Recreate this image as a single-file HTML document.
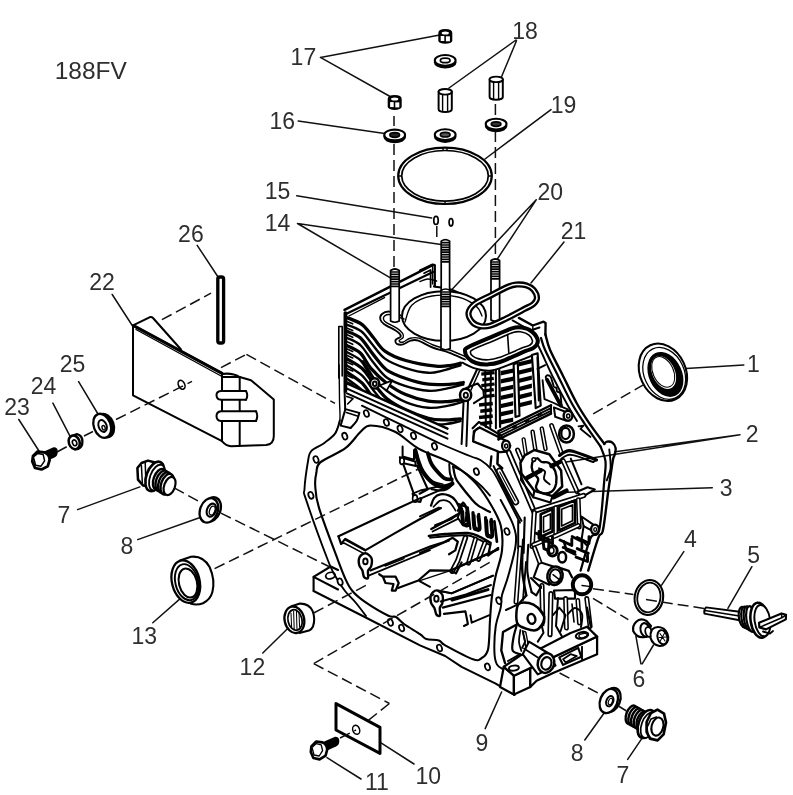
<!DOCTYPE html>
<html><head><meta charset="utf-8"><title>188FV crankcase</title>
<style>
html,body{margin:0;padding:0;background:#fff;}
svg{display:block;filter:blur(0.45px);}
text{font-family:"Liberation Sans",sans-serif;fill:#2e2e2e;}
.ld{stroke:#111;stroke-width:1.5;fill:none;stroke-linecap:round;}
.ds{stroke:#111;stroke-width:1.5;fill:none;stroke-dasharray:11 5;}
.k{stroke:#000;stroke-width:2;fill:none;stroke-linejoin:round;stroke-linecap:round;}
.kw{stroke:#000;stroke-width:2;fill:#fff;stroke-linejoin:round;stroke-linecap:round;}
.t{stroke:#000;stroke-width:1.4;fill:none;stroke-linejoin:round;stroke-linecap:round;}
.tw{stroke:#000;stroke-width:1.2;fill:#fff;stroke-linejoin:round;stroke-linecap:round;}
.b{stroke:#000;stroke-width:2.2;fill:none;stroke-linejoin:round;stroke-linecap:round;}
.bw{stroke:#000;stroke-width:2.2;fill:#fff;stroke-linejoin:round;stroke-linecap:round;}
.f{fill:#000;stroke:none;}
</style></head>
<body>
<svg width="793" height="795" viewBox="0 0 793 795">
<rect width="793" height="795" fill="#fff"/>
<text id="L0" x="54.7" y="79.0" font-size="24.5">188FV</text>
<text id="L1" x="290.6" y="65.0" font-size="23">17</text>
<text id="L2" x="512.3" y="38.5" font-size="23">18</text>
<text id="L3" x="269.5" y="129.0" font-size="23">16</text>
<text id="L4" x="550.8" y="113.0" font-size="23">19</text>
<text id="L5" x="264.7" y="199.0" font-size="23">15</text>
<text id="L6" x="264.7" y="231.3" font-size="23">14</text>
<text id="L7" x="537.5" y="199.5" font-size="23">20</text>
<text id="L8" x="560.7" y="239.4" font-size="23">21</text>
<text id="L9" x="178.1" y="242.3" font-size="23">26</text>
<text id="L10" x="89.3" y="290.0" font-size="23">22</text>
<text id="L11" x="59.7" y="372.4" font-size="23">25</text>
<text id="L12" x="30.7" y="394.3" font-size="23">24</text>
<text id="L13" x="4.3" y="415.2" font-size="23">23</text>
<text id="L14" x="57.6" y="523.0" font-size="23">7</text>
<text id="L15" x="120.4" y="553.5" font-size="23">8</text>
<text id="L16" x="131.4" y="644.0" font-size="23">13</text>
<text id="L17" x="239.6" y="675.2" font-size="23">12</text>
<text id="L18" x="365.0" y="790.0" font-size="23">11</text>
<text id="L19" x="415.5" y="784.0" font-size="23">10</text>
<text id="L20" x="475.5" y="751.3" font-size="23">9</text>
<text id="L21" x="570.8" y="761.4" font-size="23">8</text>
<text id="L22" x="616.5" y="782.8" font-size="23">7</text>
<text id="L23" x="632.5" y="686.5" font-size="23">6</text>
<text id="L24" x="747.3" y="562.5" font-size="23">5</text>
<text id="L25" x="684.0" y="547.3" font-size="23">4</text>
<text id="L26" x="719.7" y="496.0" font-size="23">3</text>
<text id="L27" x="745.7" y="441.8" font-size="23">2</text>
<text id="L28" x="746.9" y="371.7" font-size="23">1</text>
<path class="ld" d="M320.4 57.4L438.4 35.2 M320.4 57.4L391 97 M298.2 121L384.7 133.6 M516 40L449 88 M516.5 40.8L501 78 M551 109.6L485 159 M296.7 195.7L431.7 218 M297.5 223.5L391.3 278.4 M297.5 223.5L441 244.6 M536.2 199.8L497 259.5 M536.2 199.8L451.7 289.8 M564 242L531 283 M197.2 245.3L217.4 276 M112.2 294.5L132.9 326.5 M78.6 381.7L98.3 414.5 M52.9 403.1L70.5 437.2 M18.8 419.5L40.3 453 M77.6 509.6L139.9 486.9 M137.7 539.6L199.4 517.7 M152.8 622.8L180.5 598.4 M262.8 653L288 628.3 M327 757.7L361 779 M380.6 742.6L414 764 M485.2 728.6L501.6 692 M584.8 740L603.8 713.5 M627.7 759.4L642.1 738.2 M640.9 663.8L635.9 636.1 M642.2 663.8L653.5 645 M751.9 566.7L727.9 608.4 M683.8 551.6L661.6 585.2 M712.3 487.7L560 492.5 M740 434.8L615.2 451.7 M740 434.8L563 462.5 M685.8 368.4L743.8 364.9"/>
<defs><clipPath id="finclip"><path d="M345 300 L470 300 L470 400 L466 436 L447.5 428 L347 383Z"/></clipPath></defs><path class="kw" d="M344.5 309.7 L432.6 265.0 L436.0 284.0 L470.0 299.0 L545.0 322.0 L545.0 335.0 L465.0 366.0 L430.0 364.6 L405.7 358.3 L386.7 350.7 L371.6 335.6 L359.0 321.7 L346.4 317.3Z" style="stroke:none"/><path class="k" d="M344.5 309.9 L432.6 265.2" style="stroke-width:2.50"/><path class="k" d="M347.0 313.6 L433.0 272.0" style="stroke-width:2.25"/><path class="t" d="M348.9 316.0 L384.5 297.6" /><path class="k" d="M420.0 270.6 L432.6 264.6 L434.8 265.2 L434.8 286.0" style="stroke-width:2.25"/><path class="k" d="M424.0 273.2 L430.6 270.0 L430.6 287.0" style="stroke-width:1.75"/><path class="t" d="M432.6 264.6 L432.6 284.0" /><path class="k" d="M433.9 286.5C436.8 287.0 445.4 287.5 451.5 289.6C457.6 291.7 465.6 296.3 470.4 299.0C475.1 301.7 478.4 304.8 480.0 306.0" /><path class="t" d="M420.0 281.5C421.3 281.1 425.2 279.1 428.0 279.0C430.8 278.9 435.2 280.7 436.6 281.0" /><ellipse class="kw" cx="444" cy="316" rx="42" ry="24.8" style="stroke-width:2.00"/><path class="t" d="M405.0 322.0C406.2 319.2 407.5 309.3 412.0 305.0C416.5 300.7 424.3 297.3 432.0 296.0C439.7 294.7 450.7 295.3 458.0 297.0C465.3 298.7 472.0 302.8 476.0 306.0C480.0 309.2 481.0 314.3 482.0 316.0" /><path class="k" d="M402.0 316.0C399.9 315.3 392.6 311.9 389.3 311.6C386.0 311.3 383.5 312.7 382.0 314.0C380.5 315.3 380.0 317.9 380.4 319.6C380.8 321.3 381.7 322.4 384.2 324.2C386.7 326.0 393.0 328.8 395.6 330.5C398.2 332.2 399.2 333.2 400.0 334.3C400.8 335.4 401.3 335.9 400.6 336.8C399.9 337.8 396.2 338.8 395.6 340.0C395.0 341.2 395.6 343.1 396.8 343.8C398.1 344.5 400.8 344.9 403.1 344.4C405.4 343.9 408.2 341.2 410.7 340.6C413.2 340.0 414.6 339.5 418.3 340.6C422.0 341.8 427.5 345.5 432.6 347.5C437.7 349.5 443.6 350.6 449.0 352.6C454.4 354.6 462.3 358.4 465.0 359.5" style="stroke-width:1.88"/><path class="t" d="M404.0 319.0C401.7 318.3 393.2 315.1 390.0 314.6C386.8 314.1 385.6 315.2 384.5 316.0C383.4 316.8 383.3 318.5 383.6 319.6C383.9 320.7 384.2 321.1 386.5 322.6C388.8 324.1 394.5 326.6 397.2 328.4C399.9 330.2 401.6 331.9 402.6 333.4C403.6 334.9 403.7 336.2 403.2 337.4C402.7 338.6 399.9 339.6 399.4 340.4C398.9 341.2 399.5 341.7 400.2 342.0C400.9 342.3 401.7 342.6 403.4 342.0C405.1 341.4 407.6 338.8 410.2 338.2C412.8 337.6 415.2 337.1 419.0 338.2C422.8 339.3 428.1 343.0 433.2 345.0C438.3 347.0 444.3 348.1 449.6 350.0C454.9 351.9 462.4 355.4 465.0 356.5" /><path class="k" d="M346.6 317.4C349.2 318.6 357.7 321.2 362.2 324.6C366.6 328.0 369.7 333.4 373.5 337.8C377.3 342.2 379.5 347.3 384.9 351.1C390.2 354.9 397.1 358.0 405.7 360.5C414.2 363.0 428.4 365.4 435.9 366.2C443.5 367.0 447.0 365.8 451.1 365.3C455.1 364.8 458.9 363.5 460.5 363.2" clip-path="url(#finclip)" style="stroke-width:3.25"/><path class="k" d="M346.6 324.6C349.1 325.7 357.0 328.1 361.2 331.2C365.4 334.4 367.7 338.9 371.6 343.5C375.6 348.1 379.2 354.5 384.9 358.6C390.5 362.7 398.4 365.7 405.7 368.1C412.9 370.5 422.0 372.4 428.4 372.8C434.7 373.2 438.1 371.6 443.5 370.4C448.8 369.1 457.7 366.1 460.5 365.3" clip-path="url(#finclip)" style="stroke-width:2.38"/><path class="k" d="M346.6 331.2C348.9 332.3 355.8 333.9 360.3 337.8C364.7 341.8 369.1 349.5 373.5 354.9C377.9 360.2 381.4 366.0 386.7 370.0C392.1 373.9 398.7 376.1 405.7 378.5C412.6 380.9 420.8 383.2 428.4 384.2C435.9 385.1 445.2 384.5 451.1 384.2C456.9 383.9 461.3 382.8 463.3 382.5" clip-path="url(#finclip)" style="stroke-width:3.25"/><path class="k" d="M346.6 337.8C348.9 339.0 355.9 341.1 360.3 345.0C364.6 349.0 368.1 356.0 372.6 361.5C377.0 366.9 381.2 373.5 386.7 377.5C392.3 381.6 398.7 383.9 405.7 386.1C412.6 388.3 421.7 390.3 428.4 390.8C435.0 391.3 439.5 389.9 445.4 388.9C451.2 387.9 460.4 385.3 463.3 384.5" clip-path="url(#finclip)" style="stroke-width:2.38"/><path class="k" d="M346.6 345.4C348.9 346.7 356.3 349.2 360.3 353.0C364.3 356.7 366.3 363.0 370.7 368.1C375.1 373.1 380.9 378.8 386.7 383.2C392.6 387.6 398.7 391.6 405.7 394.6C412.6 397.6 421.4 400.0 428.4 401.2C435.3 402.4 441.6 401.9 447.3 401.6C452.9 401.3 459.9 399.8 462.4 399.5" clip-path="url(#finclip)" style="stroke-width:3.25"/><path class="k" d="M346.6 352.0C348.9 353.4 356.3 356.3 360.3 360.1C364.3 364.0 366.3 370.2 370.7 375.3C375.1 380.4 380.9 386.3 386.7 390.8C392.6 395.3 398.7 399.3 405.7 402.1C412.6 405.0 421.4 407.2 428.4 407.8C435.3 408.4 441.6 406.9 447.3 405.9C452.9 404.9 459.9 402.5 462.4 401.8" clip-path="url(#finclip)" style="stroke-width:2.38"/><path class="k" d="M346.6 358.6C349.2 360.3 357.7 364.4 362.2 368.5C366.6 372.6 369.4 378.2 373.5 383.2C377.6 388.2 381.4 393.9 386.7 398.4C392.1 402.8 398.7 406.4 405.7 409.7C412.6 413.0 422.0 416.5 428.4 418.2C434.7 419.9 438.1 419.8 443.5 419.9C448.8 420.0 457.7 419.0 460.5 418.8" clip-path="url(#finclip)" style="stroke-width:3.25"/><path class="k" d="M346.6 365.3C349.2 367.0 357.7 371.5 362.2 375.7C366.6 379.8 369.4 385.5 373.5 390.4C377.6 395.3 381.4 400.9 386.7 405.2C392.1 409.4 398.7 412.7 405.7 415.8C412.6 418.8 421.7 421.9 428.4 423.3C435.0 424.7 440.0 424.5 445.4 424.1C450.7 423.7 458.0 421.6 460.5 421.1" clip-path="url(#finclip)" style="stroke-width:2.38"/><path class="k" d="M346.6 371.9C349.2 373.8 357.7 378.8 362.2 383.2C366.6 387.6 369.4 393.6 373.5 398.4C377.6 403.1 381.4 407.5 386.7 411.6C392.1 415.7 398.7 419.5 405.7 422.9C412.6 426.4 422.0 430.4 428.4 432.4C434.7 434.4 441.0 434.3 443.5 434.7" clip-path="url(#finclip)" style="stroke-width:3.25"/><path class="k" d="M346.6 378.5C349.2 380.5 357.7 386.0 362.2 390.4C366.6 394.9 369.4 400.5 373.5 405.2C377.6 409.8 381.4 414.4 386.7 418.4C392.1 422.4 398.7 426.1 405.7 429.4C412.6 432.7 424.6 436.6 428.4 438.1" clip-path="url(#finclip)" style="stroke-width:2.38"/><path class="k" d="M346.6 321.2 L352.7 323.8" clip-path="url(#finclip)" style="stroke-width:1.62"/><path class="k" d="M346.6 328.0 L352.7 330.6" clip-path="url(#finclip)" style="stroke-width:1.62"/><path class="k" d="M346.6 334.6 L352.7 337.3" clip-path="url(#finclip)" style="stroke-width:1.62"/><path class="k" d="M346.6 341.6 L352.7 344.3" clip-path="url(#finclip)" style="stroke-width:1.62"/><path class="k" d="M346.6 348.8 L352.7 351.4" clip-path="url(#finclip)" style="stroke-width:1.62"/><path class="k" d="M346.6 355.2 L352.7 357.9" clip-path="url(#finclip)" style="stroke-width:1.62"/><path class="k" d="M346.6 362.0 L352.7 364.7" clip-path="url(#finclip)" style="stroke-width:1.62"/><path class="k" d="M346.6 368.5 L352.7 371.1" clip-path="url(#finclip)" style="stroke-width:1.62"/><path class="k" d="M346.6 375.3 L352.7 377.9" clip-path="url(#finclip)" style="stroke-width:1.62"/><path class="k" d="M346.6 381.7 L352.7 384.4" clip-path="url(#finclip)" style="stroke-width:1.62"/><path class="k" d="M345.4 313.0 L345.4 391.0" style="stroke-width:3.75"/><path class="k" d="M338.8 378.0 L338.8 326.5 L342.2 326.5 L342.2 376.0" style="stroke-width:1.62"/><path class="k" d="M363.1 361.5 L375.0 380.4" style="stroke-width:2.75"/><path class="kw" d="M379.6 385.5 L392.4 380.4 L386.7 390.4Z" style="stroke-width:1.75"/><ellipse class="kw" cx="374.6" cy="383.4" rx="4.6" ry="5.2" style="stroke-width:2.50"/><ellipse class="kw" cx="374.8" cy="383.8" rx="1.9" ry="2.3" style="stroke-width:1.88"/><path class="k" d="M347.0 383.4 L447.5 428.6" style="stroke-width:2.50"/><path class="k" d="M347.0 388.6 L447.5 433.8" style="stroke-width:2.00"/><path class="k" d="M347.0 393.4 L447.5 438.6" style="stroke-width:2.00"/><path class="kw" d="M313.6 576.9 L330.7 566.5 L341.0 571.0 L341.0 603.0 L338.0 603.6 L313.6 591.0Z" style="stroke:none"/><path class="k" d="M338.0 589.5 L313.6 576.9 L330.7 566.5 L338.0 570.0" style="stroke-width:2.12"/><path class="k" d="M313.6 576.9 L313.6 591.0" style="stroke-width:2.12"/><ellipse class="kw" cx="330.4" cy="575.6" rx="4.8" ry="3.2" transform="rotate(-15 330.4 575.6)" style="stroke-width:1.75"/><path class="k" d="M415.2 450.2C415.7 452.1 417.1 458.0 418.4 461.5C419.6 465.1 420.4 468.0 422.8 471.6C425.2 475.2 429.3 480.4 432.9 483.0C436.4 485.5 441.0 486.9 444.2 487.0C447.5 487.1 451.1 484.2 452.4 483.6" style="stroke-width:4.25"/><path class="k" d="M427.8 453.3C428.3 454.7 429.3 459.1 430.4 461.5C431.4 463.9 431.8 465.1 434.1 467.8C436.4 470.6 441.3 476.2 444.2 478.2C447.2 480.1 450.5 479.2 451.8 479.4" style="stroke-width:3.75"/><path class="t" d="M417.1 452.7C417.7 455.2 418.5 463.2 420.9 467.8C423.3 472.5 427.9 477.7 431.6 480.4C435.3 483.2 441.1 483.6 443.0 484.2" /><path class="k" d="M449.3 464.0C449.4 465.5 449.4 469.6 449.9 472.9C450.4 476.1 452.9 480.9 452.4 483.6C451.9 486.3 448.7 488.1 446.7 489.3C444.7 490.4 443.0 490.5 440.4 490.5C437.9 490.5 433.1 489.5 431.6 489.3" style="stroke-width:2.00"/><path class="k" d="M402.6 446.4 L402.6 456.5 L414.0 459.6 L414.0 450.8" style="stroke-width:2.00"/><path class="kw" d="M399.8 457.1 L415.2 461.5 L415.9 465.9 L401.3 462.8Z" style="stroke-width:2.00"/><ellipse class="kw" cx="402" cy="461" rx="2.2" ry="3.4" style="stroke-width:1.75"/><path class="k" d="M403.2 464.0 L414.0 494.3" style="stroke-width:2.12"/><path class="k" d="M417.1 465.9 L427.8 489.3 L419.6 493.7" style="stroke-width:2.12"/><path class="k" d="M412.7 493.7 L420.3 490.5 L449.3 484.2" style="stroke-width:1.88"/><path class="k" d="M412.7 493.7 L414.0 500.6 L420.3 501.9 L421.5 498.1 L449.3 486.1" style="stroke-width:2.12"/><ellipse class="kw" cx="415" cy="498.5" rx="2.4" ry="3.6" style="stroke-width:1.62"/><path class="k" d="M453.1 466.6C453.5 468.5 454.3 474.8 455.6 477.9C456.8 481.1 458.1 482.1 460.6 485.5C463.1 488.8 467.8 494.7 470.7 498.1C473.6 501.5 475.1 503.4 478.3 505.7C481.5 508.0 488.0 510.9 490.0 512.0" style="stroke-width:2.25"/><path class="k" d="M453.1 466.6C454.7 467.4 460.0 469.7 463.1 471.6C466.3 473.5 468.8 475.4 472.0 477.9C475.1 480.4 479.1 483.8 482.1 486.7C485.1 489.7 488.7 494.1 490.0 495.6" style="stroke-width:1.88"/><path class="k" d="M431.0 505.7C431.5 504.4 432.6 500.0 434.1 498.1C435.7 496.2 437.9 494.7 440.4 494.3C443.0 493.9 446.7 494.5 449.3 495.6C451.8 496.6 453.7 498.1 455.6 500.6C457.5 503.1 459.8 509.0 460.6 510.7" style="stroke-width:2.25"/><path class="k" d="M433.5 506.9C434.7 505.9 437.8 501.5 440.4 500.6C443.1 499.8 446.7 500.2 449.3 501.9C451.8 503.6 454.5 509.2 455.6 510.7" style="stroke-width:1.75"/><path class="k" d="M458.1 510.7C458.9 509.4 461.7 503.1 463.1 503.1C464.6 503.1 466.5 507.8 466.9 510.7C467.3 513.6 465.9 519.1 465.7 520.8" style="stroke-width:2.50"/><path class="k" d="M338.5 536.3 L395.0 509.8 L420.3 498.1" style="stroke-width:2.12"/><path class="k" d="M338.5 536.3 L341.0 543.9 L345.4 538.8 L365.6 550.2 L395.0 533.1 L418.3 520.0 L441.0 508.0" style="stroke-width:2.12"/><path class="k" d="M341.0 543.9 L344.0 543.0 L364.0 553.6" style="stroke-width:1.62"/><path class="t" d="M344.6 539.6 L365.4 551.0" /><path class="kw" d="M365.3 553.2C367.3 553.3 370.4 555.9 371.4 558.0C372.4 560.1 371.8 563.8 371.2 566.0C370.6 568.2 368.5 569.0 368.0 571.0C367.5 573.0 368.7 577.0 368.0 578.0C367.3 579.0 364.9 578.2 364.0 577.0C363.1 575.8 363.2 572.5 362.4 570.5C361.6 568.5 359.7 567.2 359.2 565.0C358.7 562.8 358.4 559.5 359.4 557.5C360.4 555.5 363.3 553.1 365.3 553.2Z" style="stroke-width:2.38"/><ellipse class="kw" cx="365.4" cy="561.4" rx="2.2" ry="2.9" style="stroke-width:1.88"/><path class="k" d="M370.4 570.4 L430.0 546.5 L449.0 540.4" style="stroke-width:2.12"/><path class="k" d="M368.6 575.6 L430.0 550.3" style="stroke-width:1.75"/><path class="t" d="M385.0 566.0 L404.0 558.6" /><path class="k" d="M379.2 574.2 L383.0 576.7 L395.6 576.7 L398.7 583.0 L395.6 590.6 L391.8 590.6 L393.5 584.0 L385.5 583.0 L383.0 577.0" style="stroke-width:2.25"/><path class="k" d="M398.1 588.1 L418.3 580.5 L430.0 570.4 L450.3 570.6 L498.2 549.2" style="stroke-width:2.12"/><path class="k" d="M419.5 581.2 L430.0 586.8" style="stroke-width:2.00"/><path class="t" d="M420.0 580.7 L450.3 570.6" /><path class="kw" d="M436.4 590.4C438.3 590.4 441.4 592.9 442.4 595.0C443.4 597.1 442.8 600.8 442.4 603.0C442.0 605.2 440.2 605.9 439.8 608.0C439.4 610.1 440.6 614.4 440.0 615.5C439.4 616.6 437.3 615.8 436.4 614.5C435.5 613.2 435.3 610.0 434.4 608.0C433.5 606.0 431.6 604.8 431.0 602.6C430.4 600.4 430.1 597.0 431.0 595.0C431.9 593.0 434.5 590.4 436.4 590.4Z" style="stroke-width:2.38"/><ellipse class="kw" cx="436.4" cy="598.8" rx="2.2" ry="3" style="stroke-width:1.88"/><path class="k" d="M438.0 590.6 L451.5 593.3 L493.1 575.7" style="stroke-width:2.00"/><path class="t" d="M451.5 593.3 L440.5 591.5" /><path class="k" d="M442.7 607.6 L490.6 595.0" style="stroke-width:2.12"/><path class="k" d="M444.0 613.9 L465.4 611.4 L467.9 624.0 L464.0 626.0" style="stroke-width:2.12"/><path class="k" d="M470.4 615.2 L471.7 622.7 L489.4 615.2" style="stroke-width:2.00"/><path class="k" d="M440.6 601.5 L466.0 594.5 L491.0 585.0" style="stroke-width:1.88"/><path class="k" d="M452.0 600.0 L488.0 589.6" style="stroke-width:3.00"/><path class="k" d="M420.0 516.4 L438.9 507.6" style="stroke-width:2.00"/><path class="k" d="M431.3 529.0 L456.6 515.1" style="stroke-width:2.50"/><path class="k" d="M432.6 531.5 L457.8 518.9" style="stroke-width:1.75"/><path class="k" d="M428.8 535.9C431.6 535.6 438.7 534.5 445.2 534.0C451.7 533.6 462.2 532.6 467.9 533.0C473.6 533.5 475.5 534.9 479.3 536.6C483.1 538.2 488.7 541.8 490.6 542.9" style="stroke-width:2.50"/><path class="k" d="M430.1 537.8C432.6 537.6 439.1 536.7 445.2 536.3C451.3 535.9 461.2 534.8 466.7 535.3C472.1 535.8 474.2 537.5 478.0 539.1C481.8 540.7 487.5 543.8 489.4 544.8" style="stroke-width:1.88"/><path class="k" d="M420.0 553.0 L449.0 540.4" style="stroke-width:2.12"/><path class="k" d="M457.8 503.8 L467.9 507.6 L470.4 529.0" style="stroke-width:2.12"/><path class="k" d="M462.9 502.5 L457.8 517.7 L462.9 525.2" style="stroke-width:2.00"/><path class="k" d="M461.6 508.8C461.8 511.1 462.1 520.0 462.6 522.7C463.1 525.4 463.8 524.9 464.8 525.2C465.8 525.5 468.1 527.0 468.5 524.6C469.0 522.2 467.5 513.0 467.3 510.7" style="stroke-width:3.25"/><path class="k" d="M463.4 511.1C463.5 512.8 463.8 519.4 464.1 521.4C464.5 523.5 465.1 523.2 465.6 523.5C466.2 523.7 467.1 524.8 467.2 523.0C467.2 521.1 466.1 514.1 465.9 512.4" style="stroke-width:1.50"/><path class="k" d="M473.0 512.6C473.1 515.0 473.4 524.3 474.0 527.1C474.5 529.9 475.1 529.3 476.1 529.6C477.1 529.9 479.5 531.5 479.9 529.0C480.3 526.5 478.8 516.9 478.6 514.5" style="stroke-width:3.25"/><path class="k" d="M474.7 514.9C474.9 516.7 475.1 523.7 475.5 525.9C475.9 528.0 476.5 527.6 477.0 527.9C477.5 528.1 478.5 529.3 478.5 527.4C478.6 525.4 477.5 518.0 477.3 516.1" style="stroke-width:1.50"/><path class="k" d="M485.6 517.7C485.7 520.4 486.1 530.9 486.6 534.0C487.1 537.2 487.7 536.3 488.7 536.6C489.7 536.9 492.1 538.8 492.5 535.9C492.9 533.1 491.5 522.3 491.2 519.5" style="stroke-width:3.25"/><path class="k" d="M487.3 519.9C487.5 522.1 487.7 530.3 488.1 532.8C488.5 535.3 489.1 534.6 489.6 534.8C490.1 535.1 491.1 536.6 491.1 534.3C491.2 532.0 490.1 523.4 489.9 521.2" style="stroke-width:1.50"/><path class="k" d="M494.4 521.4 L496.9 541.6" style="stroke-width:2.75"/><path class="k" d="M465.4 537.8 L457.8 560.5 L452.2 571.2" style="stroke-width:5.50"/><path class="k" d="M465.4 537.8 L457.8 560.5 L452.2 571.2" style="stroke:#fff;stroke-width:2.00"/><path class="k" d="M475.5 539.1 L468.5 563.1" style="stroke-width:5.00"/><path class="k" d="M475.5 539.1 L468.5 563.1" style="stroke:#fff;stroke-width:1.75"/><path class="k" d="M484.9 542.9 L478.6 559.3" style="stroke-width:5.00"/><path class="k" d="M484.9 542.9 L478.6 559.3" style="stroke:#fff;stroke-width:1.75"/><path class="k" d="M452.2 571.2 L455.9 573.4 L461.6 562.4" style="stroke-width:2.25"/><path class="k" d="M490.6 544.1 L488.1 555.5 L498.2 547.9" style="stroke-width:2.25"/><path class="k" d="M445.2 541.6 L452.8 537.8 L457.8 541.6 L455.3 550.4 L449.0 554.2" style="stroke-width:2.25"/><path class="k" d="M435.1 525.2 L451.5 518.9 L461.6 511.3" style="stroke-width:2.12"/><path class="k" d="M450.3 570.6 L498.2 549.2" style="stroke-width:2.25"/><path class="k" d="M451.5 593.3 L493.1 575.7" style="stroke-width:2.00"/><path class="k" d="M339.1 365.0C339.2 370.8 339.4 390.8 339.5 400.0C339.6 409.2 340.5 415.0 339.8 420.5C339.1 426.0 336.1 431.0 335.4 433.1" style="stroke-width:1.38"/><path class="k" d="M339.8 420.5C339.1 422.6 338.0 429.3 335.4 433.1C332.8 436.9 328.0 440.2 324.0 443.2C320.0 446.1 314.0 448.0 311.4 450.8C308.8 453.6 309.3 453.6 308.2 460.0C307.1 466.4 304.8 482.3 304.5 489.0C304.2 495.7 302.4 488.6 306.3 500.4C310.2 512.2 322.8 547.1 327.8 560.0C332.8 572.9 333.4 572.6 336.3 577.8C339.2 583.0 341.7 586.8 345.0 591.0C348.3 595.2 352.5 598.8 356.0 603.0C359.5 607.2 364.3 613.8 366.0 616.0" style="stroke-width:1.88"/><path class="k" d="M370.7 425.5C376.4 425.5 386.9 427.9 395.0 431.8C403.1 435.7 409.8 443.7 419.0 448.9C428.2 454.1 441.5 457.6 450.5 462.8C459.5 468.1 466.9 474.2 473.2 480.4C479.5 486.6 483.5 492.5 488.1 500.0C492.7 507.5 498.4 516.8 500.7 525.2C503.0 533.6 502.8 542.0 502.0 550.4C501.2 558.8 497.4 567.9 495.7 575.7C494.0 583.5 492.8 589.6 491.9 597.0C490.9 604.4 490.6 611.5 490.0 620.2C489.4 628.9 489.5 642.9 488.1 649.2C486.7 655.5 484.3 656.3 481.8 658.0C479.3 659.7 479.1 661.4 473.0 659.3C466.9 657.2 450.9 648.5 445.2 645.4C439.5 642.2 442.0 641.4 438.9 640.4C435.8 639.4 429.4 640.1 426.3 639.1C423.2 638.1 423.7 636.6 420.0 634.1C416.3 631.6 408.0 626.9 404.0 624.0C400.0 621.1 398.6 618.4 396.0 617.0C393.4 615.6 393.4 618.1 388.4 615.7C383.3 613.3 371.7 606.5 365.7 602.4C359.7 598.3 355.9 595.1 352.4 591.0C348.9 586.9 347.3 583.0 344.9 577.8C342.5 572.6 342.2 571.6 337.9 560.0C333.6 548.4 322.8 520.4 319.0 507.9C315.2 495.4 315.6 491.1 315.2 485.2C314.8 479.3 315.5 476.4 316.4 472.6C317.2 468.8 315.5 466.5 320.3 462.4C325.1 458.3 338.7 453.3 345.4 448.2C352.1 443.1 356.4 435.6 360.6 431.8C364.8 428.0 365.0 425.5 370.7 425.5Z" style="stroke-width:2.12"/><path class="k" d="M313.6 591.0 L365.7 617.5 L420.0 645.4 L445.2 656.0 L461.6 666.9 L495.7 683.6 L514.6 695.0" style="stroke-width:2.00"/><path class="k" d="M361.9 405.7C368.2 408.8 387.0 417.9 400.0 424.2C413.0 430.5 428.3 438.2 440.0 443.5C451.7 448.8 463.2 453.2 470.0 456.0C476.8 458.8 477.1 458.0 480.8 460.3C484.5 462.6 488.7 465.9 492.0 470.0C495.3 474.1 498.0 480.0 500.7 485.0C503.4 490.0 505.1 493.7 508.3 500.0C511.5 506.3 518.0 518.9 520.0 522.7" style="stroke-width:1.88"/><path class="k" d="M500.7 500.0C502.8 504.2 510.8 517.9 513.3 525.2C515.8 532.6 516.6 535.7 515.8 544.1C515.0 552.5 510.6 567.2 508.3 575.7C506.0 584.2 503.3 589.7 502.0 595.0C500.7 600.3 501.8 602.4 500.7 607.6C499.6 612.9 496.8 619.1 495.7 626.5C494.6 633.9 494.2 645.4 494.4 651.7C494.6 658.0 495.4 661.5 496.9 664.4C498.4 667.3 502.1 668.6 503.2 669.4" style="stroke-width:2.00"/><path class="k" d="M345.4 409.1 L359.3 412.9" style="stroke-width:2.00"/><path class="k" d="M346.4 412.6 L357.4 416.0" style="stroke-width:1.62"/><path class="k" d="M359.3 412.9C358.9 414.2 358.1 418.5 356.6 421.0C355.1 423.5 351.5 426.8 350.5 428.0" style="stroke-width:2.00"/><path class="k" d="M345.4 409.1 L340.6 425.6 L350.5 428.0" style="stroke-width:2.00"/><path class="k" d="M344.6 392.0 L345.2 409.0" style="stroke-width:2.00"/><path class="k" d="M346.8 396.4 L353.0 398.6 L347.6 404.0" style="stroke-width:1.62"/><ellipse class="kw" cx="366.4" cy="413.5" rx="2.4" ry="3.5" transform="rotate(-20 366.4 413.5)" style="stroke-width:1.75"/><ellipse class="kw" cx="386.4" cy="422.5" rx="2.4" ry="3.5" transform="rotate(-20 386.4 422.5)" style="stroke-width:1.75"/><ellipse class="kw" cx="400.1" cy="428.9" rx="2.4" ry="3.5" transform="rotate(-20 400.1 428.9)" style="stroke-width:1.75"/><ellipse class="kw" cx="413.5" cy="435.8" rx="2.4" ry="3.5" transform="rotate(-20 413.5 435.8)" style="stroke-width:1.75"/><ellipse class="kw" cx="434.5" cy="446.4" rx="2.4" ry="3.5" transform="rotate(-20 434.5 446.4)" style="stroke-width:1.75"/><ellipse class="kw" cx="476.4" cy="471.6" rx="2.4" ry="3.5" transform="rotate(-20 476.4 471.6)" style="stroke-width:1.75"/><ellipse class="kw" cx="507" cy="531.5" rx="2.4" ry="3.5" transform="rotate(-20 507 531.5)" style="stroke-width:1.75"/><ellipse class="kw" cx="498.8" cy="600.7" rx="2.4" ry="3.5" transform="rotate(-20 498.8 600.7)" style="stroke-width:1.75"/><ellipse class="kw" cx="487.5" cy="666.9" rx="2.4" ry="3.5" transform="rotate(-20 487.5 666.9)" style="stroke-width:1.75"/><ellipse class="kw" cx="439.5" cy="648" rx="2.4" ry="3.5" transform="rotate(-20 439.5 648)" style="stroke-width:1.75"/><ellipse class="kw" cx="401.6" cy="628" rx="2.4" ry="3.5" transform="rotate(-20 401.6 628)" style="stroke-width:1.75"/><ellipse class="kw" cx="390.4" cy="622.4" rx="2.4" ry="3.5" transform="rotate(-20 390.4 622.4)" style="stroke-width:1.75"/><ellipse class="kw" cx="340.1" cy="581.8" rx="2.4" ry="3.5" transform="rotate(-20 340.1 581.8)" style="stroke-width:1.75"/><ellipse class="kw" cx="310.9" cy="495.3" rx="2.4" ry="3.5" transform="rotate(-20 310.9 495.3)" style="stroke-width:1.75"/><ellipse class="kw" cx="316" cy="459.5" rx="2.4" ry="3.5" transform="rotate(-20 316 459.5)" style="stroke-width:1.75"/><ellipse class="kw" cx="344.8" cy="436.2" rx="2.4" ry="3.5" transform="rotate(-20 344.8 436.2)" style="stroke-width:1.75"/><path class="k" d="M532.6 431.8 L535.4 450.0" style="stroke-width:4.50"/><path class="k" d="M532.6 431.8 L535.4 450.0" style="stroke:#fff;stroke-width:1.50"/><path class="k" d="M541.8 428.6 L545.5 448.9" style="stroke-width:4.50"/><path class="k" d="M541.8 428.6 L545.5 448.9" style="stroke:#fff;stroke-width:1.50"/><path class="k" d="M551.5 425.4 L561.1 452.2" style="stroke-width:4.75"/><path class="k" d="M551.5 425.4 L561.1 452.2" style="stroke:#fff;stroke-width:1.75"/><path class="k" d="M523.6 439.3 L526.2 456.4" style="stroke-width:4.25"/><path class="k" d="M523.6 439.3 L526.2 456.4" style="stroke:#fff;stroke-width:1.50"/><path class="k" d="M508.6 452.2 L534.3 512.2" style="stroke-width:5.75"/><path class="k" d="M508.6 452.2 L534.3 512.2" style="stroke:#fff;stroke-width:2.25"/><path class="k" d="M517.6 450.0 L526.2 470.4" style="stroke-width:5.00"/><path class="k" d="M517.6 450.0 L526.2 470.4" style="stroke:#fff;stroke-width:1.88"/><path class="k" d="M497.9 452.2 L497.4 463.9 L502.2 468.2" style="stroke-width:2.50"/><path class="k" d="M491.4 456.4 L490.4 466.1" style="stroke-width:2.25"/><path class="kw" d="M479.6 427.5 L505.4 440.4 L510.3 445.7 L506.9 451.7 L500.0 452.2 L473.2 441.4 L473.9 431.1Z" style="stroke-width:2.25"/><ellipse class="kw" cx="506" cy="445.7" rx="3.9" ry="5.2" style="stroke-width:2.25"/><ellipse class="kw" cx="506.2" cy="445.9" rx="1.5" ry="2" style="stroke-width:1.50"/><path class="k" d="M479.6 427.5C479.0 427.9 477.0 428.3 476.0 429.6C475.0 431.0 474.1 433.5 473.6 435.4C473.2 437.4 473.3 440.4 473.2 441.4" style="stroke-width:1.75"/><path class="k" d="M499.4 471.0 L515.7 501.9" style="stroke-width:7.00"/><path class="k" d="M499.4 471.0 L515.7 501.9" style="stroke:#fff;stroke-width:3.50"/><path class="k" d="M499.8 471.9 L515.2 501.0" style="stroke-width:1.12"/><path class="k" d="M493.6 466.1C495.0 469.1 498.9 477.7 502.2 484.3C505.4 490.9 509.7 499.7 512.9 505.7C516.1 511.8 520.0 518.2 521.4 520.8" style="stroke-width:2.00"/><path class="kw" d="M524.7 455.4 L534.3 450.0 L549.3 454.3 L561.1 470.4 L562.2 486.5 L552.5 496.1 L534.3 490.7 L521.4 473.6 L520.4 462.9Z" style="stroke-width:2.50"/><path class="k" d="M532.2 462.9C532.9 460.7 535.3 458.3 536.9 458.2C538.5 458.0 539.8 461.2 541.8 462.0C543.8 462.8 546.6 461.3 548.9 462.9C551.1 464.4 554.1 468.1 555.3 471.4C556.5 474.8 556.8 479.8 556.2 483.2C555.5 486.6 553.9 490.2 551.5 491.8C549.1 493.4 544.4 493.6 541.8 492.9C539.2 492.2 536.6 489.8 536.0 487.5C535.4 485.2 538.7 481.6 538.2 478.9C537.6 476.3 533.6 474.1 532.6 471.4C531.6 468.8 531.5 465.1 532.2 462.9Z" style="stroke-width:2.38"/><path class="k" d="M539.0 468.2C540.0 468.8 544.2 469.7 545.0 471.4C545.8 473.2 543.2 476.8 544.0 478.9C544.7 481.1 548.8 483.4 549.7 484.3" style="stroke-width:1.88"/><ellipse class="kw" cx="533.8" cy="459.6" rx="1.8" ry="1.8" style="stroke-width:1.62"/><path class="k" d="M534.3 490.7 L533.2 497.2 L550.4 502.5 L552.5 496.1" style="stroke-width:2.12"/><path class="k" d="M521.4 473.6 L521.0 480.0 L533.2 497.2" style="stroke-width:2.12"/><path class="k" d="M526.8 477.9 L540.7 470.4" style="stroke-width:4.50"/><path class="k" d="M551.5 466.1 L562.2 460.7" style="stroke-width:4.50"/><path class="k" d="M553.6 497.2 L566.5 490.7" style="stroke-width:4.50"/><path class="k" d="M563.2 460.7 L577.2 491.8" style="stroke-width:5.00"/><path class="k" d="M563.2 460.7 L577.2 491.8" style="stroke:#fff;stroke-width:1.88"/><path class="k" d="M570.8 458.6 L581.5 484.3" style="stroke-width:2.00"/><path class="k" d="M559.6 455.4C560.6 454.8 563.2 452.4 565.4 451.7C567.6 451.0 567.7 449.9 572.9 451.3C578.1 452.7 592.5 458.4 596.5 459.9" style="stroke-width:3.25"/><path class="k" d="M561.1 459.0C562.0 458.4 564.5 456.2 566.5 455.6C568.4 454.9 568.4 454.1 572.9 455.2C577.4 456.2 589.9 460.9 593.3 462.0" style="stroke-width:1.88"/><path class="k" d="M593.3 462.0 L596.5 459.9" style="stroke-width:1.88"/><path class="kw" d="M577.2 491.8 L587.5 487.3 L594.8 489.5 L581.9 497.2Z" style="stroke-width:2.12"/><path class="k" d="M534.3 511.1 L583.6 495.5" style="stroke-width:5.50"/><path class="k" d="M534.3 511.1 L583.6 495.5" style="stroke:#fff;stroke-width:2.00"/><path class="k" d="M540.7 514.3 L552.5 509.0 L552.5 531.5 L540.7 536.8Z" style="stroke-width:2.62"/><path class="k" d="M543.5 516.9 L550.4 513.9 L550.4 528.9 L543.5 532.3Z" style="stroke-width:1.62"/><path class="k" d="M559.0 506.8 L575.0 500.4 L575.0 522.9 L559.0 530.4Z" style="stroke-width:2.62"/><path class="k" d="M561.7 509.2 L572.5 504.9 L572.5 520.8 L561.7 525.9Z" style="stroke-width:1.62"/><path class="k" d="M534.3 512.6 L532.2 546.5" style="stroke-width:5.25"/><path class="k" d="M534.3 512.6 L532.2 546.5" style="stroke:#fff;stroke-width:2.00"/><path class="k" d="M555.7 507.5 L555.7 535.8" style="stroke-width:4.75"/><path class="k" d="M555.7 507.5 L555.7 535.8" style="stroke:#fff;stroke-width:1.75"/><path class="k" d="M578.3 499.7 L579.3 527.2" style="stroke-width:4.75"/><path class="k" d="M578.3 499.7 L579.3 527.2" style="stroke:#fff;stroke-width:1.75"/><path class="k" d="M533.5 544.8 L555.7 535.8 L578.3 525.5" style="stroke-width:5.00"/><path class="k" d="M533.5 544.8 L555.7 535.8 L578.3 525.5" style="stroke:#fff;stroke-width:1.88"/><path class="k" d="M524.7 517.5 L523.6 552.9" style="stroke-width:2.12"/><path class="k" d="M518.2 520.8 L518.2 548.6" style="stroke-width:2.00"/><path class="kw" d="M581.5 516.5 L593.3 524.6 L596.5 533.2 L583.6 526.1Z" style="stroke-width:2.00"/><ellipse class="kw" cx="595" cy="529.3" rx="3.9" ry="4.7" style="stroke-width:2.38"/><ellipse class="kw" cx="595.2" cy="529.5" rx="1.4" ry="1.9" style="stroke-width:1.38"/><path class="k" d="M583.6 526.1 L581.5 540.0 L586.8 545.4" style="stroke-width:2.00"/><path class="k" d="M539.0 531.5 L539.0 538.3 L552.5 543.3" style="stroke-width:2.88"/><path class="k" d="M552.5 543.3 L552.5 536.8" style="stroke-width:2.88"/><path class="k" d="M560.0 540.0 L571.8 545.4 L571.8 539.0" style="stroke-width:2.88"/><path class="k" d="M577.2 537.5 L589.0 543.3 L589.0 536.8" style="stroke-width:2.88"/><path class="k" d="M563.2 547.5 L575.0 551.8" style="stroke-width:2.88"/><path class="k" d="M576.1 557.2 L587.5 561.5 L587.5 555.5" style="stroke-width:2.88"/><path class="k" d="M577.2 548.6 L588.3 553.3" style="stroke-width:2.88"/><path class="k" d="M542.9 540.0 L544.0 548.6 L549.7 551.2" style="stroke-width:3.00"/><ellipse class="kw" cx="552.5" cy="550.8" rx="4.7" ry="5.2" style="stroke-width:3.00"/><ellipse class="k" cx="551.6" cy="550.4" rx="2.4" ry="3" style="stroke-width:1.50"/><ellipse class="kw" cx="562.2" cy="557.2" rx="3.9" ry="5.2" style="stroke-width:2.50"/><path class="kw" d="M539.4 561.9 L554.1 566.8 L549.2 584.8 L533.7 577.4Z" style="stroke-width:2.12"/><ellipse class="kw" cx="555" cy="575.8" rx="7.6" ry="9.3" transform="rotate(12 555 575.8)" style="stroke-width:2.50"/><ellipse class="kw" cx="555.2" cy="576.1" rx="5.5" ry="6.8" transform="rotate(12 555.2 576.1)" style="stroke-width:2.00"/><path class="t" d="M553.0 574.6 L559.0 579.4" /><path class="kw" d="M554.0 590.5 L575.0 590.0 L575.0 598.6 L555.0 598.6Z" style="stroke-width:2.12"/><ellipse class="kw" cx="582" cy="584.8" rx="9.2" ry="9.5" style="stroke-width:3.88"/><path class="t" d="M582.0 585.5 L589.0 586.4" /><path class="k" d="M520.0 548.0 L516.0 602.0" style="stroke-width:5.00"/><path class="k" d="M520.0 548.0 L516.0 602.0" style="stroke:#fff;stroke-width:1.88"/><path class="k" d="M526.0 562.0 L523.0 600.0" style="stroke-width:1.88"/><path class="k" d="M541.9 585.6 L542.7 621.5" style="stroke-width:5.25"/><path class="k" d="M541.9 585.6 L542.7 621.5" style="stroke:#fff;stroke-width:2.00"/><path class="k" d="M550.9 593.7 L550.0 634.6" style="stroke-width:5.25"/><path class="k" d="M550.9 593.7 L550.0 634.6" style="stroke:#fff;stroke-width:2.00"/><path class="k" d="M565.6 598.6 L566.4 628.0" style="stroke-width:5.00"/><path class="k" d="M565.6 598.6 L566.4 628.0" style="stroke:#fff;stroke-width:1.88"/><path class="k" d="M577.8 600.3 L579.4 623.0" style="stroke-width:4.75"/><path class="k" d="M577.8 600.3 L579.4 623.0" style="stroke:#fff;stroke-width:1.75"/><path class="k" d="M586.8 598.6 L590.1 626.4" style="stroke-width:5.00"/><path class="k" d="M586.8 598.6 L590.1 626.4" style="stroke:#fff;stroke-width:1.88"/><path class="k" d="M558.0 598.0 L556.0 626.0 L564.0 640.0" style="stroke-width:2.00"/><path class="k" d="M568.0 614.0C569.2 613.0 572.7 608.0 575.0 608.0C577.3 608.0 581.0 610.8 582.0 614.0C583.0 617.2 581.2 624.8 581.0 627.0" style="stroke-width:2.00"/><path class="k" d="M531.0 578.0 L541.0 588.0" style="stroke-width:2.12"/><path class="k" d="M572.0 604.0 L574.0 622.0" style="stroke-width:1.62"/><path class="k" d="M553.0 615.1 L559.3 607.6 L565.6 615.1 L560.5 631.5" style="stroke-width:1.88"/><path class="k" d="M587.0 607.6 L590.8 626.5" style="stroke-width:2.25"/><path class="k" d="M523.1 539.8C522.9 545.0 521.7 561.6 522.3 570.9C522.8 580.1 525.7 591.3 526.3 595.4" style="stroke-width:2.38"/><path class="k" d="M528.3 544.7C528.1 549.1 526.8 563.0 527.3 570.9C527.9 578.8 530.9 588.6 531.6 592.1" style="stroke-width:2.12"/><path class="k" d="M534.5 548.0 L539.7 561.9" style="stroke-width:5.00"/><path class="k" d="M534.5 548.0 L539.7 561.9" style="stroke:#fff;stroke-width:1.75"/><path class="k" d="M526.3 595.4 L519.8 602.7" style="stroke-width:2.25"/><path class="k" d="M531.6 592.1 L536.2 595.4 L541.1 586.4" style="stroke-width:2.12"/><path class="k" d="M536.2 533.3 L549.2 539.8 L548.6 546.3" style="stroke-width:2.75"/><path class="k" d="M563.9 541.4 L566.4 550.4 L575.4 554.5" style="stroke-width:2.50"/><path class="k" d="M572.1 536.5 L581.9 541.4 L581.9 548.0" style="stroke-width:2.75"/><path class="k" d="M559.0 567.6 L568.8 570.9 L572.1 577.4" style="stroke-width:2.25"/><path class="kw" d="M518.9 603.8C521.0 602.1 525.9 602.4 529.0 603.0C532.1 603.6 535.3 605.4 537.8 607.6C540.3 609.8 543.5 613.5 544.1 616.4C544.7 619.3 543.1 622.9 541.6 625.2C540.1 627.5 537.9 629.7 535.3 630.3C532.7 630.9 528.9 629.6 526.0 628.6C523.1 627.6 519.3 626.6 517.7 624.0C516.1 621.4 516.2 616.4 516.4 613.0C516.6 609.6 516.8 605.5 518.9 603.8Z" style="stroke-width:2.50"/><ellipse class="kw" cx="531.5" cy="618.9" rx="3.8" ry="5" transform="rotate(-15 531.5 618.9)" style="stroke-width:2.38"/><path class="k" d="M517.7 624.0 L503.0 632.0 L501.3 650.4 L505.0 663.0" style="stroke-width:2.38"/><path class="k" d="M518.9 603.8 L506.0 610.0" style="stroke-width:2.00"/><path class="k" d="M537.8 607.6 L544.1 616.4 L543.5 625.2" style="stroke-width:1.88"/><path class="k" d="M541.6 625.2 L543.5 632.8 L537.8 641.6" style="stroke-width:2.00"/><path class="k" d="M516.4 626.4C515.9 628.3 514.0 634.0 513.4 638.0C512.8 642.0 511.5 647.7 512.6 650.4C513.7 653.1 518.9 653.6 520.2 654.2" style="stroke-width:2.25"/><path class="k" d="M520.2 654.2 L508.0 661.0" style="stroke-width:2.00"/><path class="k" d="M520.4 630.0C520.2 632.0 518.8 638.5 519.0 642.0C519.2 645.5 521.0 649.5 521.4 651.0" style="stroke-width:1.75"/><path class="k" d="M524.5 633.0 L527.0 646.0" style="stroke-width:4.25"/><path class="k" d="M524.5 633.0 L527.0 646.0" style="stroke:#fff;stroke-width:1.50"/><path class="k" d="M522.7 630.9 L525.2 641.6 L522.1 647.9" style="stroke-width:1.88"/><path class="kw" d="M496.6 369.0 L536.9 352.6 L543.2 405.6 L550.8 405.6 L501.6 433.3 L496.6 428.3Z" style="stroke:none"/><path class="k" d="M462.5 362.7C464.6 363.6 470.3 367.1 475.1 368.4C480.0 369.7 485.0 371.5 491.5 370.5C498.0 369.6 506.9 365.4 514.2 362.7C521.6 360.0 532.1 355.6 535.7 354.1" style="stroke-width:2.00"/><path class="f" d="M500.6 371.1 L513.2 368.4 L513.2 372.7 L500.6 375.4Z" /><path class="f" d="M500.6 379.3 L513.2 376.6 L513.2 380.9 L500.6 383.6Z" /><path class="f" d="M500.6 387.5 L513.2 384.8 L513.2 389.1 L500.6 391.8Z" /><path class="f" d="M500.6 395.7 L513.2 393.0 L513.2 397.3 L500.6 400.0Z" /><path class="f" d="M500.6 403.9 L513.2 401.2 L513.2 405.4 L500.6 408.2Z" /><path class="f" d="M500.6 412.1 L513.2 409.4 L513.2 413.6 L500.6 416.4Z" /><path class="f" d="M500.6 420.3 L513.2 417.6 L513.2 421.8 L500.6 424.6Z" /><path class="f" d="M518.6 362.3 L531.9 359.0 L531.9 363.3 L518.6 366.6Z" /><path class="f" d="M518.6 370.5 L531.9 367.2 L531.9 371.5 L518.6 374.8Z" /><path class="f" d="M518.6 378.7 L531.9 375.4 L531.9 379.7 L518.6 383.0Z" /><path class="f" d="M518.6 386.9 L531.9 383.6 L531.9 387.9 L518.6 391.2Z" /><path class="f" d="M518.6 395.1 L531.9 391.8 L531.9 396.1 L518.6 399.4Z" /><path class="f" d="M518.6 403.3 L531.9 400.0 L531.9 404.3 L518.6 407.6Z" /><path class="t" d="M501.6 375.9 L512.7 373.3" style="stroke:#fff;stroke-width:0.12"/><path class="t" d="M501.6 384.1 L512.7 381.5" style="stroke:#fff;stroke-width:0.12"/><path class="t" d="M501.6 392.3 L512.7 389.7" style="stroke:#fff;stroke-width:0.12"/><path class="t" d="M501.6 400.5 L512.7 397.9" style="stroke:#fff;stroke-width:0.12"/><path class="t" d="M501.6 408.7 L512.7 406.1" style="stroke:#fff;stroke-width:0.12"/><path class="t" d="M501.6 416.9 L512.7 414.3" style="stroke:#fff;stroke-width:0.12"/><path class="t" d="M501.6 425.1 L512.7 422.5" style="stroke:#fff;stroke-width:0.12"/><path class="k" d="M495.9 370.3 L495.9 428.3" style="stroke-width:2.00"/><path class="k" d="M499.3 369.8 L500.1 427.0" style="stroke-width:2.25"/><path class="kw" d="M513.6 364.2 L515.5 416.9 L519.5 415.7 L517.8 362.7Z" style="stroke-width:2.12"/><path class="kw" d="M531.9 355.1 L535.7 408.1 L540.7 405.6 L537.6 353.2Z" style="stroke-width:2.12"/><path class="k" d="M498.5 431.0 L551.0 405.3" style="stroke-width:2.38"/><path class="k" d="M498.5 433.8 L551.0 408.1" style="stroke-width:1.75"/><path class="k" d="M498.5 436.6 L551.0 410.9" style="stroke-width:1.75"/><path class="k" d="M498.5 439.4 L551.0 413.6" style="stroke-width:2.38"/><path class="k" d="M551.0 405.3 L551.0 413.6" style="stroke-width:2.00"/><path class="k" d="M498.5 431.0 L498.5 439.4" style="stroke-width:2.00"/><path class="k" d="M513.0 427.2 L515.7 426.0" style="stroke-width:2.50"/><path class="k" d="M525.6 421.1 L528.3 419.8" style="stroke-width:2.50"/><path class="k" d="M538.2 414.9 L541.0 413.6" style="stroke-width:2.50"/><path class="f" d="M481.2 372.5 L494.3 371.0 L494.8 374.3 L481.4 375.8Z" /><path class="f" d="M482.2 378.2 L493.5 376.7 L494.0 380.0 L482.4 381.5Z" /><path class="f" d="M481.2 383.9 L494.3 382.4 L494.8 385.6 L481.4 387.2Z" /><path class="f" d="M482.2 389.6 L493.5 388.0 L494.0 391.3 L482.4 392.8Z" /><path class="f" d="M481.2 395.2 L494.3 393.7 L494.8 397.0 L481.4 398.5Z" /><path class="f" d="M478.9 403.2 L492.5 401.7 L493.0 405.2 L479.2 406.7Z" /><path class="f" d="M480.2 409.5 L492.0 408.0 L492.5 411.5 L480.4 413.0Z" /><path class="f" d="M478.9 415.8 L492.5 414.3 L493.0 417.8 L479.2 419.3Z" /><path class="f" d="M480.2 422.1 L492.0 420.6 L492.5 424.1 L480.4 425.6Z" /><path class="k" d="M485.2 371.5 L485.9 427.0" style="stroke-width:2.00"/><path class="k" d="M490.9 370.9 L490.3 427.0" style="stroke-width:2.00"/><path class="kw" d="M466.3 387.9 L477.7 383.5 L483.3 390.4 L484.0 396.7 L473.9 403.1" style="stroke-width:2.00"/><ellipse class="kw" cx="465.6" cy="394.9" rx="5.6" ry="6.2" style="stroke-width:2.50"/><ellipse class="kw" cx="465.8" cy="395.2" rx="2.1" ry="2.6" style="stroke-width:1.88"/><path class="k" d="M468.4 388.0 L477.0 369.5" style="stroke-width:2.00"/><path class="k" d="M471.0 390.0 L479.5 371.0" style="stroke-width:1.62"/><path class="k" d="M463.6 401.0 L461.6 444.0" style="stroke-width:2.00"/><path class="k" d="M468.0 401.4 L466.4 446.0" style="stroke-width:2.00"/><path class="k" d="M472.6 428.3 L478.9 422.0 L501.6 435.8" style="stroke-width:2.12"/><path class="k" d="M518.9 317.9 L532.8 325.5 L543.5 321.7 L545.6 323.0 L545.4 334.5" style="stroke-width:2.38"/><path class="k" d="M512.6 320.4 L530.3 330.5 L539.5 327.5" style="stroke-width:1.88"/><path class="t" d="M532.8 325.5 L532.8 331.0" /><path class="k" d="M545.4 334.3C546.2 336.9 547.2 343.2 550.1 350.0C553.0 356.8 558.3 366.4 562.7 375.2C567.1 384.0 572.2 395.0 576.6 403.0C581.0 411.0 584.6 416.3 589.2 423.1C593.8 429.9 601.8 440.4 604.3 443.9" style="stroke-width:2.38"/><path class="k" d="M541.0 338.0C541.7 340.0 542.3 343.8 545.1 350.0C547.9 356.2 553.3 366.4 557.7 375.2C562.1 384.0 567.2 395.0 571.6 403.0C576.0 411.0 579.4 415.9 584.2 423.1C589.0 430.3 597.8 442.5 600.5 446.4" style="stroke-width:2.25"/><path class="k" d="M538.4 346.0C538.9 347.0 538.7 346.5 541.3 352.0C543.9 357.5 549.5 370.1 553.9 379.0C558.3 387.9 563.9 398.5 567.8 405.5C571.6 412.5 575.5 418.4 577.0 421.0" style="stroke-width:1.88"/><path class="k" d="M604.3 443.9C604.8 443.5 605.6 441.8 607.0 441.6C608.4 441.4 611.0 441.5 612.4 442.6C613.8 443.7 615.2 445.9 615.6 448.0C616.0 450.1 615.0 453.2 614.6 455.0C614.2 456.8 613.8 455.5 613.1 459.0C612.4 462.5 611.4 470.3 610.5 476.0C609.6 481.7 609.2 484.0 608.0 493.0C606.8 502.0 604.6 522.5 603.0 530.0C601.4 537.5 600.8 531.0 598.3 537.8C595.8 544.6 589.9 565.1 588.2 570.6" style="stroke-width:2.38"/><path class="k" d="M600.5 446.4C601.3 448.9 604.9 455.8 605.5 461.5C606.1 467.2 605.3 469.0 604.3 480.4C603.2 491.8 601.5 520.4 599.2 530.0C596.9 539.6 593.8 531.0 590.7 537.8C587.6 544.6 582.3 565.1 580.6 570.6" style="stroke-width:2.25"/><path class="k" d="M609.3 449.5C609.5 452.6 611.0 462.7 610.6 467.8C610.2 472.9 607.4 478.3 606.8 480.4" style="stroke-width:1.88"/><path class="k" d="M547.0 379.6 L560.9 405.5" style="stroke-width:3.75"/><path class="k" d="M547.0 379.6C546.8 379.2 545.6 377.8 545.7 377.1C545.8 376.4 546.8 375.2 547.6 375.2C548.5 375.2 549.7 375.2 550.8 377.1C551.8 379.0 553.0 384.8 553.9 386.6C554.9 388.4 555.9 387.0 556.4 387.8C557.0 388.7 556.4 390.7 557.1 391.6C557.7 392.6 559.5 391.2 560.2 393.5C561.0 395.8 561.3 403.5 561.5 405.5" style="stroke-width:1.88"/><path class="k" d="M542.6 380.3 L544.5 399.2 L553.9 403.0 L560.2 406.1 L567.8 409.3" style="stroke-width:1.88"/><path class="k" d="M537.5 368.9 L545.1 365.1" style="stroke-width:1.88"/><path class="k" d="M537.5 357.6 L538.8 400.4" style="stroke-width:2.00"/><path class="kw" d="M553.9 407.4 L565.3 411.8 L565.9 420.6 L555.2 416.8Z" style="stroke-width:2.00"/><ellipse class="kw" cx="568" cy="415.8" rx="4.4" ry="5" style="stroke-width:2.38"/><ellipse class="kw" cx="568.2" cy="416" rx="1.6" ry="2" style="stroke-width:1.62"/><ellipse class="kw" cx="566.5" cy="434" rx="7.4" ry="8.6" style="stroke-width:2.50"/><ellipse class="kw" cx="565.6" cy="433.4" rx="4.3" ry="5.6" style="stroke-width:2.25"/><path class="k" d="M578.5 426.3 L583.5 425.7 L580.4 428.8 L590.5 437.0" style="stroke-width:1.75"/><path class="kw" d="M500.0 687.0 L503.8 666.8 L513.9 675.7 L513.9 694.6Z" style="stroke-width:2.25"/><path class="kw" d="M513.9 675.7 L530.3 668.1 L530.3 687.0 L513.9 694.6Z" style="stroke-width:2.25"/><path class="kw" d="M530.3 668.1 L597.1 636.6 L597.1 654.2 L554.2 672.5 L536.6 680.7 L530.3 687.0Z" style="stroke-width:2.25"/><path class="kw" d="M503.8 666.8 L513.9 675.7 L530.3 668.1 L597.1 636.6 L587.0 626.7 L570.6 633.0 L541.6 647.9 L520.2 655.5Z" style="stroke-width:2.25"/><ellipse class="kw" cx="513.9" cy="668.1" rx="5" ry="2.5" transform="rotate(-8 513.9 668.1)" style="stroke-width:1.88"/><ellipse class="kw" cx="582" cy="635.3" rx="6.3" ry="3.2" transform="rotate(-12 582 635.3)" style="stroke-width:2.12"/><ellipse class="k" cx="583" cy="635.6" rx="4.2" ry="2" transform="rotate(-12 583 635.6)" style="stroke-width:1.38"/><path class="kw" d="M559.3 657.4 L578.2 647.9 L581.3 656.7 L563.1 664.9Z" style="stroke-width:2.12"/><path class="k" d="M563.1 659.3 L570.6 654.2 L576.9 656.1 L565.6 662.4Z" style="stroke-width:1.75"/><path class="k" d="M582.0 646.7 L582.0 659.3" style="stroke-width:1.88"/><path class="kw" d="M529.0 641.6 L547.9 653.0 L555.5 665.6 L537.8 674.4 L522.7 654.2Z" style="stroke-width:2.12"/><ellipse class="kw" cx="546" cy="663" rx="8.2" ry="10" transform="rotate(15 546 663)" style="stroke-width:2.50"/><ellipse class="kw" cx="546.4" cy="663.4" rx="5" ry="6.4" transform="rotate(15 546.4 663.4)" style="stroke-width:2.12"/><path class="k" d="M524.0 648.5 L537.8 657.4" style="stroke-width:1.75"/><path class="kw" d="M465.0 351.0C465.0 349.2 463.8 349.4 468.0 347.2C472.2 345.0 482.7 340.7 490.0 337.6C497.3 334.5 506.7 330.1 512.0 328.4C517.3 326.7 518.7 327.1 522.0 327.6C525.3 328.1 529.4 329.4 532.0 331.6C534.6 333.8 537.5 338.0 537.8 340.6C538.1 343.2 536.1 345.7 534.0 347.5C531.9 349.3 530.9 348.8 525.2 351.2C519.5 353.6 506.2 359.8 500.0 362.0C493.8 364.2 491.8 364.2 487.8 364.4C483.8 364.6 479.3 364.1 476.0 363.0C472.7 361.9 469.8 360.0 468.0 358.0C466.2 356.0 465.0 352.8 465.0 351.0Z" style="stroke-width:4.00"/><path class="k" d="M470.5 352.5C470.6 351.4 469.4 351.4 473.0 349.5C476.6 347.6 485.3 344.2 492.0 341.4C498.7 338.6 508.1 334.2 513.0 332.6C517.9 331.0 518.8 331.6 521.5 332.0C524.2 332.4 527.2 333.7 529.0 335.2C530.8 336.7 532.3 339.2 532.5 340.8C532.7 342.4 531.6 343.9 530.0 345.0C528.4 346.1 528.2 345.5 523.0 347.6C517.8 349.7 504.8 355.6 499.0 357.6C493.2 359.6 491.5 359.6 488.0 359.8C484.5 360.0 480.6 359.3 478.0 358.6C475.4 357.9 473.8 356.8 472.5 355.8C471.2 354.8 470.4 353.6 470.5 352.5Z" style="stroke-width:1.62"/><path class="k" d="M507.6 334.5 L508.8 352.5" style="stroke-width:1.62"/>
<path class="f" d="M438.3 33.0 Q438.3 29.0 445.3 29.0 Q452.3 29.0 452.3 33.0 L452.3 41.0 Q451.3 43.8 445.3 43.8 Q439.3 43.8 438.3 41.0Z"/><ellipse cx="445.3" cy="32.9" rx="3.6" ry="1.5" fill="#fff"/><rect x="440.7" y="36.0" width="3.6" height="5" fill="#fff"/><rect x="445.90000000000003" y="36.3" width="4" height="5" fill="#fff"/><ellipse cx="445.2" cy="62.4" rx="11.3" ry="6.2" class="f"/><ellipse cx="445.2" cy="60.4" rx="10.4" ry="5.4" fill="#fff" stroke="#000" stroke-width="2.07"/><ellipse cx="445.2" cy="60.4" rx="4.8" ry="2.3" fill="#fff" stroke="#000" stroke-width="1.72"/><path class="kw" d="M438.59999999999997 91.5 L438.59999999999997 109.3 A6.6 2.8 0 0 0 451.8 109.3 L451.8 91.5" style="stroke-width:1.95"/><ellipse class="kw" cx="445.2" cy="91.8" rx="6.6" ry="2.8" style="stroke-width:1.84"/><path class="t" d="M442.59999999999997 95 L442.59999999999997 110.8 M447.59999999999997 95 L447.59999999999997 110.8" /><path class="kw" d="M489.59999999999997 79.1 L489.59999999999997 96.9 A6.6 2.8 0 0 0 502.8 96.9 L502.8 79.1" style="stroke-width:1.95"/><ellipse class="kw" cx="496.2" cy="79.39999999999999" rx="6.6" ry="2.8" style="stroke-width:1.84"/><path class="t" d="M493.59999999999997 82.6 L493.59999999999997 98.4 M498.59999999999997 82.6 L498.59999999999997 98.4" /><path class="f" d="M387.7 99.1 Q387.7 95.1 394.7 95.1 Q401.7 95.1 401.7 99.1 L401.7 107.1 Q400.7 109.89999999999999 394.7 109.89999999999999 Q388.7 109.89999999999999 387.7 107.1Z"/><ellipse cx="394.7" cy="99.0" rx="3.6" ry="1.5" fill="#fff"/><rect x="390.09999999999997" y="102.1" width="3.6" height="5" fill="#fff"/><rect x="395.3" y="102.39999999999999" width="4" height="5" fill="#fff"/><ellipse cx="394.7" cy="137.0" rx="11.3" ry="6.2" class="f"/><ellipse cx="394.7" cy="135.0" rx="10.4" ry="5.4" fill="#fff" stroke="#000" stroke-width="2.07"/><ellipse cx="394.7" cy="135.0" rx="4.8" ry="2.3" fill="#222" stroke="#000" stroke-width="1.72"/><ellipse cx="445.2" cy="136.7" rx="11.3" ry="6.2" class="f"/><ellipse cx="445.2" cy="134.7" rx="10.4" ry="5.4" fill="#fff" stroke="#000" stroke-width="2.07"/><ellipse cx="445.2" cy="134.7" rx="4.8" ry="2.3" fill="#555" stroke="#000" stroke-width="1.72"/><ellipse cx="496.1" cy="126.1" rx="11.3" ry="6.2" class="f"/><ellipse cx="496.1" cy="124.1" rx="10.4" ry="5.4" fill="#fff" stroke="#000" stroke-width="2.07"/><ellipse cx="496.1" cy="124.1" rx="4.8" ry="2.3" fill="#333" stroke="#000" stroke-width="1.72"/><ellipse class="k" cx="445" cy="175.8" rx="46.8" ry="28.2" style="stroke-width:2.18"/><ellipse class="k" cx="445" cy="175.8" rx="43.3" ry="25.3" style="stroke-width:1.72"/><path class="t" d="M443 147.6 L443 150 M447 147.6 L447 150 M398.3 176 L401 176 M489 176 L491.8 176 M445 201.4 L445 204" /><ellipse class="kw" cx="436" cy="220.4" rx="2.2" ry="4" style="stroke-width:1.72"/><ellipse class="kw" cx="451" cy="222.3" rx="1.9" ry="3.8" style="stroke-width:1.72"/><rect x="217.8" y="277" width="5.8" height="66" rx="2" fill="#fff" stroke="#000" stroke-width="3.33"/><path class="kw" d="M133 325.4 L149.5 317.3 Q151.5 316.5 153 318 L181 349.5" /><path class="kw" d="M133 325.4 L222 373.2 L222 377 L239.7 377 L251 380.2 L273.8 399.6 L273.8 436 Q273.8 444.5 266 445 L231 446.3 Q226 446 222 441.2 L133 395.3 Z" /><path class="b" d="M133.5 325.6 L222 373.4" style="stroke-width:2.99"/><path class="t" d="M136 329.5 L222 376.5" /><path class="k" d="M222 377 L222 441.2 M239.7 377 L239.7 445.6" /><path class="k" d="M222 374 Q232 372.5 239.7 377" /><path class="kw" d="M246 391 L221 391 Q216.5 391.5 216.5 395 Q216.5 399.5 221 399.8 L246 399.8" /><path class="kw" d="M256 411.3 L221 411.3 Q216.5 411.8 216.5 416 Q216.5 420.6 221 421 L256 421" /><path class="k" d="M246 391 Q248.5 395.4 246 399.8 M256 411.3 Q258.5 416 256 421" /><ellipse class="kw" cx="181.6" cy="384.8" rx="3.1" ry="4.7" transform="rotate(-25 181.6 384.8)" style="stroke-width:1.61"/><ellipse class="f" cx="105.2" cy="425.6" rx="9.6" ry="13.2" transform="rotate(-20 105.2 425.6)" /><ellipse class="kw" cx="102.2" cy="425.8" rx="8.4" ry="12.4" transform="rotate(-20 102.2 425.8)" style="stroke-width:2.30"/><ellipse class="kw" cx="102.6" cy="426" rx="4" ry="6.2" transform="rotate(-20 102.6 426)" style="stroke-width:1.95"/><ellipse class="kw" cx="103.6" cy="427.8" rx="1.5" ry="2.4" transform="rotate(-20 103.6 427.8)" style="stroke-width:1.38"/><path class="kw" d="M73.2 435.6 L77 434.2 Q82.6 435.5 82.4 442 Q82.3 447 78.5 448.8 L75 449.4Z" style="stroke-width:2.30"/><ellipse class="kw" cx="74.2" cy="442.3" rx="5.4" ry="7" transform="rotate(-20 74.2 442.3)" style="stroke-width:2.53"/><ellipse class="kw" cx="74.6" cy="442.8" rx="2.1" ry="3" transform="rotate(-20 74.6 442.8)" style="stroke-width:1.61"/><path class="f" d="M44 451.5 L53.5 447.3 Q57.5 447 57.7 451 Q58 456 54.5 457.6 L46 461.2Z" /><path class="kw" d="M37.5 451.6 L44.5 452.4 Q49.5 454 49.6 460 L47.8 466.2 L41.5 469.4 L35 468 L32.3 461.5 L33 456 Z" style="stroke-width:2.76"/><path class="kw" d="M33.4 457 L37.8 453.4 L43.2 454.6 L44.6 460.8 L41 466.2 L35.6 465.2Z" style="stroke-width:1.49"/><path class="kw" d="M141.5 463 L148 460.6 L154 462.2 L150 486.6 L143 485.4 L138 479.6 L137.4 468 Z" style="stroke-width:2.53"/><path class="k" d="M141.4 465.5 L142.4 484 M145.2 462.4 L146 486" style="stroke-width:1.49"/><ellipse class="kw" cx="154.8" cy="476.4" rx="8.4" ry="15.4" transform="rotate(20 154.8 476.4)" style="stroke-width:2.64"/><ellipse class="kw" cx="157" cy="477.6" rx="7" ry="13.4" transform="rotate(20 157 477.6)" style="stroke-width:1.84"/><ellipse class="kw" cx="159.6" cy="479.4" rx="6" ry="10.8" transform="rotate(20 159.6 479.4)" style="stroke-width:2.42"/><ellipse class="kw" cx="162.2" cy="481" rx="6" ry="10.8" transform="rotate(20 162.2 481)" style="stroke-width:2.42"/><ellipse class="kw" cx="164.8" cy="482.6" rx="6" ry="10.8" transform="rotate(20 164.8 482.6)" style="stroke-width:2.42"/><ellipse class="kw" cx="167.2" cy="484.2" rx="6" ry="10.8" transform="rotate(20 167.2 484.2)" style="stroke-width:2.42"/><ellipse class="kw" cx="169.6" cy="486" rx="5.4" ry="9.4" transform="rotate(20 169.6 486)" style="stroke-width:2.18"/><ellipse class="kw" cx="211.6" cy="509.4" rx="8.8" ry="12.6" transform="rotate(20 211.6 509.4)" style="stroke-width:2.30"/><ellipse class="kw" cx="208.9" cy="510.4" rx="8.8" ry="12.6" transform="rotate(20 208.9 510.4)" style="stroke-width:2.30"/><ellipse class="kw" cx="211.4" cy="510.2" rx="4.4" ry="6.8" transform="rotate(20 211.4 510.2)" style="stroke-width:2.07"/><ellipse class="k" cx="212.2" cy="510.6" rx="2.6" ry="4.6" transform="rotate(20 212.2 510.6)" style="stroke-width:1.26"/><path class="kw" d="M180 560.6 L191 556.8 Q203 555.4 209.6 567 Q215.4 580 212.4 592 Q210.4 599.6 203 603.2 Q197 605.6 191 603.8 Z" style="stroke-width:2.07"/><ellipse class="kw" cx="185.8" cy="581.6" rx="13.8" ry="21.6" transform="rotate(-14 185.8 581.6)" style="stroke-width:2.30"/><ellipse class="k" cx="186.8" cy="582.2" rx="11.4" ry="18.4" transform="rotate(-14 186.8 582.2)" style="stroke-width:1.95"/><ellipse class="kw" cx="188" cy="583" rx="9" ry="14.8" transform="rotate(-14 188 583)" style="stroke-width:2.07"/><path class="kw" d="M291.5 606.3 L300 603.6 Q309 603.4 312.6 611 Q315.6 619 313 626.5 Q311.5 629.5 309 630.6 L299.5 632.9Z" style="stroke-width:2.07"/><ellipse class="kw" cx="294.4" cy="619.8" rx="9.8" ry="13.4" transform="rotate(-12 294.4 619.8)" style="stroke-width:2.30"/><ellipse class="kw" cx="295" cy="620" rx="7" ry="10.4" transform="rotate(-12 295 620)" style="stroke-width:1.72"/><path class="t" d="M291 613 L291.6 627 M293.6 611 L294.2 629.6 M296.4 610.6 L297 629.4 M299 612.2 L299.6 627.2" style="stroke-width:1.03"/><path class="kw" d="M336 703.6 L380 727.4 L380 753.4 L336 730 Z" style="stroke-width:2.99"/><ellipse class="kw" cx="356.2" cy="729.8" rx="3.4" ry="4.6" transform="rotate(-20 356.2 729.8)" style="stroke-width:1.49"/><path class="f" d="M322 742.5 L335 736.8 Q339 736.6 339.3 740.5 Q339.4 745 336 746.6 L325 751.4Z" /><path class="kw" d="M316 741.6 L322.6 742.4 Q327 744 327.2 749.5 L325.6 755.6 L319.6 759.4 L313.4 758 L310.8 752 L311.4 746.4 Z" style="stroke-width:2.64"/><path class="kw" d="M312 747.4 L316.2 743.6 L321.2 744.8 L322.6 750.6 L319.2 756 L314 755Z" style="stroke-width:1.38"/><ellipse class="kw" cx="662.9" cy="372.3" rx="22.8" ry="29.8" transform="rotate(-25 662.9 372.3)" style="stroke-width:2.07"/><ellipse class="k" cx="664.2" cy="373.4" rx="20" ry="27" transform="rotate(-25 664.2 373.4)" style="stroke-width:1.26"/><ellipse class="f" cx="665.4" cy="374.4" rx="16.6" ry="23.6" transform="rotate(-25 665.4 374.4)" /><ellipse cx="663.6" cy="372.4" rx="11.2" ry="17.4" transform="rotate(-25 663.6 372.4)" fill="#fff"/><ellipse class="k" cx="663.2" cy="371.9" rx="10.2" ry="16.2" transform="rotate(-25 663.2 371.9)" style="stroke-width:1.03"/><ellipse class="kw" cx="648.9" cy="597.5" rx="14.2" ry="17.6" transform="rotate(10 648.9 597.5)" style="stroke-width:2.07"/><ellipse class="k" cx="648.9" cy="597.5" rx="11.5" ry="14.9" transform="rotate(10 648.9 597.5)" style="stroke-width:1.84"/><path class="kw" d="M706 607.4 L741.5 612 L741 620.5 L704.4 613.6 Q703.5 610 706 607.4Z" style="stroke-width:1.84"/><path class="k" d="M705 610.6 L741 616.2" style="stroke-width:1.49"/><ellipse class="kw" cx="743.5" cy="617.2" rx="4.6" ry="10.5" transform="rotate(-8 743.5 617.2)" style="stroke-width:2.18"/><ellipse class="kw" cx="746" cy="617.8000000000001" rx="4.6" ry="11.3" transform="rotate(-8 746 617.8000000000001)" style="stroke-width:2.18"/><ellipse class="kw" cx="748.5" cy="618.4000000000001" rx="4.6" ry="12.1" transform="rotate(-8 748.5 618.4000000000001)" style="stroke-width:2.18"/><ellipse class="kw" cx="751" cy="619.0" rx="4.6" ry="12.9" transform="rotate(-8 751 619.0)" style="stroke-width:2.18"/><ellipse class="kw" cx="759.8" cy="620.2" rx="9.2" ry="17.6" transform="rotate(-8 759.8 620.2)" style="stroke-width:2.53"/><ellipse class="kw" cx="762.4" cy="620.6" rx="7.8" ry="15.8" transform="rotate(-8 762.4 620.6)" style="stroke-width:1.95"/><path class="kw" d="M759 622.8 L781.5 613.5 L786 614.8 L785.8 619.4 L766 629.4 L759.4 627.4Z" style="stroke-width:2.18"/><path class="k" d="M759.4 627.4 L781.8 617.8 L786 614.8 M781.8 617.8 L781.5 613.5" style="stroke-width:1.49"/><path class="k" d="M763 631.5 L770 633.6 L773 631" style="stroke-width:1.84"/><path class="kw" d="M636 622 Q640.5 617.5 646.5 621 L651 626 L645 637 Q637 638.5 633.2 631 Q632.4 625.5 636 622Z" style="stroke-width:2.18"/><ellipse class="kw" cx="645.2" cy="630" rx="4.6" ry="7" transform="rotate(-15 645.2 630)" style="stroke-width:2.07"/><ellipse class="kw" cx="648.6" cy="632" rx="3.2" ry="5" transform="rotate(-15 648.6 632)" style="stroke-width:1.84"/><path class="kw" d="M652 629.5 Q657 625 663.5 628.6 Q669 633 668 640 Q666 646.4 659.5 646 Q652.5 644.6 650.6 638 Q650 633 652 629.5Z" style="stroke-width:2.18"/><ellipse class="kw" cx="662.4" cy="637.2" rx="4.8" ry="7.2" transform="rotate(-15 662.4 637.2)" style="stroke-width:1.95"/><path class="t" d="M660 633.5 L665 641 M664.6 633 L660 641.4 M659 637.4 L666 637" style="stroke-width:1.03"/><ellipse class="kw" cx="611.4" cy="700" rx="8.6" ry="12.6" transform="rotate(22 611.4 700)" style="stroke-width:2.30"/><ellipse class="kw" cx="608.8" cy="701" rx="8.6" ry="12.6" transform="rotate(22 608.8 701)" style="stroke-width:2.30"/><ellipse class="kw" cx="609.8" cy="701.2" rx="3.4" ry="5.4" transform="rotate(22 609.8 701.2)" style="stroke-width:1.95"/><ellipse class="k" cx="610.4" cy="701.5" rx="1.9" ry="3.4" transform="rotate(22 610.4 701.5)" style="stroke-width:1.15"/><ellipse class="kw" cx="631.5" cy="714.8" rx="5.2" ry="9.6" transform="rotate(20 631.5 714.8)" style="stroke-width:2.42"/><ellipse class="kw" cx="634.2" cy="716.3" rx="5.2" ry="9.6" transform="rotate(20 634.2 716.3)" style="stroke-width:2.42"/><ellipse class="kw" cx="636.9" cy="717.8" rx="5.2" ry="9.6" transform="rotate(20 636.9 717.8)" style="stroke-width:2.42"/><ellipse class="kw" cx="639.6" cy="719.3" rx="5.2" ry="9.6" transform="rotate(20 639.6 719.3)" style="stroke-width:2.42"/><ellipse class="kw" cx="642.3" cy="720.8" rx="5.2" ry="9.6" transform="rotate(20 642.3 720.8)" style="stroke-width:2.42"/><ellipse class="kw" cx="646.6" cy="724" rx="8" ry="14.6" transform="rotate(20 646.6 724)" style="stroke-width:2.64"/><ellipse class="kw" cx="648.6" cy="725.2" rx="7" ry="13.2" transform="rotate(20 648.6 725.2)" style="stroke-width:1.72"/><path class="kw" d="M651 713 L657.5 709.6 L664 713.6 L666 722.5 L663.6 734.4 L657.6 740.4 L650 738.6 L646.6 732 L646.6 722 Z" style="stroke-width:2.64"/><path class="k" d="M647 727.5 L651 719 L656.5 717 M647 727.5 L648 735 L651 738.6" style="stroke-width:1.61"/><ellipse class="kw" cx="657.4" cy="726.6" rx="5.8" ry="9.2" transform="rotate(15 657.4 726.6)" style="stroke-width:2.07"/><path class="kw" d="M390.6 270.5 Q394.9 267.5 399.2 270.5 L399.2 321 Q394.9 323.5 390.6 321Z" style="stroke-width:1.72"/><path class="k" d="M391.20000000000005 272.0L398.59999999999997 272.0M391.20000000000005 274.4L398.59999999999997 274.4M391.20000000000005 276.8L398.59999999999997 276.8M391.20000000000005 279.2L398.59999999999997 279.2M391.20000000000005 281.6L398.59999999999997 281.6M391.20000000000005 284.0L398.59999999999997 284.0M391.20000000000005 286.4L398.59999999999997 286.4" style="stroke-width:1.72"/><path class="kw" d="M441.2 241.1 Q445.4 238.1 449.6 241.1 L449.6 291 Q445.4 293.5 441.2 291Z" style="stroke-width:1.72"/><path class="k" d="M441.8 242.6L449.0 242.6M441.8 245.0L449.0 245.0M441.8 247.4L449.0 247.4M441.8 249.8L449.0 249.8M441.8 252.2L449.0 252.2M441.8 254.6L449.0 254.6M441.8 257.0L449.0 257.0M441.8 259.4L449.0 259.4M441.8 261.8L449.0 261.8" style="stroke-width:1.72"/><path class="kw" d="M441 290.5 Q445.6 287.5 450.2 290.5 L450.2 348.6 Q445.6 351.1 441 348.6Z" style="stroke-width:1.72"/><path class="k" d="M441.6 292.0L449.59999999999997 292.0M441.6 294.4L449.59999999999997 294.4M441.6 296.8L449.59999999999997 296.8M441.6 299.2L449.59999999999997 299.2M441.6 301.6L449.59999999999997 301.6M441.6 304.0L449.59999999999997 304.0M441.6 306.4L449.59999999999997 306.4" style="stroke-width:1.72"/><path class="kw" d="M491 260.5 Q495.3 257.5 499.6 260.5 L499.6 320 Q495.3 322.5 491 320Z" style="stroke-width:1.72"/><path class="k" d="M491.6 262.0L499.0 262.0M491.6 264.4L499.0 264.4M491.6 266.8L499.0 266.8M491.6 269.2L499.0 269.2M491.6 271.6L499.0 271.6M491.6 274.0L499.0 274.0M491.6 276.4L499.0 276.4M491.6 278.8L499.0 278.8" style="stroke-width:1.72"/>
<path class="k" d="M468.5 313.1C468.8 310.1 470.8 307.1 474.5 304.1C478.2 301.2 485.1 298.3 490.8 295.4C496.5 292.4 504.6 288.2 508.9 286.4C513.1 284.6 513.6 284.7 516.5 284.5C519.4 284.3 523.5 284.5 526.3 285.4C529.1 286.3 531.7 287.6 533.5 289.7C535.3 291.8 537.0 295.4 537.0 297.8C537.0 300.1 535.6 302.1 533.5 304.0C531.4 305.9 528.8 306.7 524.3 309.1C519.8 311.5 511.9 315.8 506.3 318.5C500.7 321.2 494.8 324.3 490.5 325.6C486.2 326.8 483.7 326.7 480.7 326.2C477.7 325.7 474.7 324.6 472.7 322.4C470.7 320.2 468.2 316.1 468.5 313.1Z" style="stroke-width:6.2"/><path class="k" d="M468.5 313.1C468.8 310.1 470.8 307.1 474.5 304.1C478.2 301.2 485.1 298.3 490.8 295.4C496.5 292.4 504.6 288.2 508.9 286.4C513.1 284.6 513.6 284.7 516.5 284.5C519.4 284.3 523.5 284.5 526.3 285.4C529.1 286.3 531.7 287.6 533.5 289.7C535.3 291.8 537.0 295.4 537.0 297.8C537.0 300.1 535.6 302.1 533.5 304.0C531.4 305.9 528.8 306.7 524.3 309.1C519.8 311.5 511.9 315.8 506.3 318.5C500.7 321.2 494.8 324.3 490.5 325.6C486.2 326.8 483.7 326.7 480.7 326.2C477.7 325.7 474.7 324.6 472.7 322.4C470.7 320.2 468.2 316.1 468.5 313.1Z" style="stroke:#fff;stroke-width:1.5"/>
<path class="ds" d="M394 116L394 126 M394 144L394 269 M495.4 104L495.4 115 M495.4 131L495.4 259 M436.8 226L436.8 240 M161.9 319.7L211 293.2 M221 367.6L246.4 354.3 M246.4 354.3L335 403.4 M116 419.5L192 381.4 M84 436L93 431.5 M57 452L68 446 M174.2 487.9L200 502 M220.9 513.1L330 567 M214.6 568.6L420.5 468 M313.7 613L366.6 585 M313.7 663.6L490.6 561.8 M313.7 663.6L389.4 703.5 M389.4 703.5L367.5 721 M340 738L356 730 M644.2 384.3L590 415.8 M593 588.7L633.4 594.5 M646 599.6L704 608.4 M593 598.3L628.3 619.7 M559.6 673L601.2 694.6 M618.4 706L626.5 711"/>
</svg>
</body></html>
